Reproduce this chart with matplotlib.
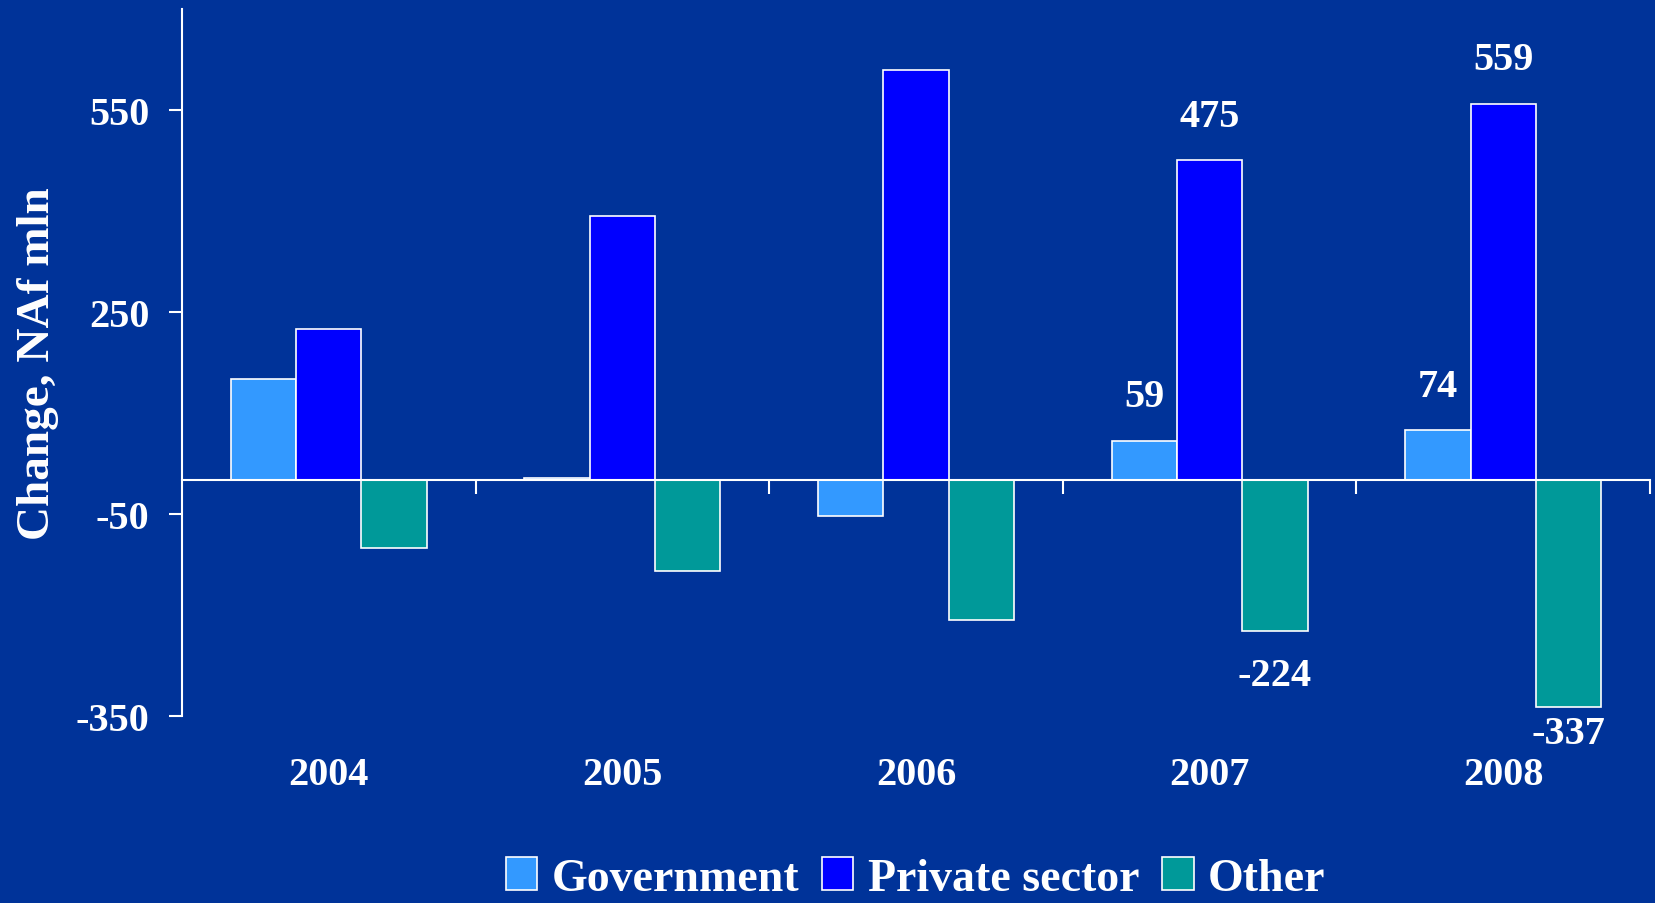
import matplotlib.pyplot as plt
import numpy as np

years = ["2004", "2005", "2006", "2007", "2008"]
government = [151, 3, -53, 59, 74]
private_sector = [225, 393, 610, 475, 559]
other = [-100, -134, -207, -224, -337]

series_names = ["Government", "Private sector", "Other"]
series_colors = ["#3399FF", "#0000FF", "#009999"]

# years whose bars carry a value label
labelled_years = ["2007", "2008"]

BG = "#003399"
FONT = "Liberation Serif"

plt.rcParams["axes.unicode_minus"] = False


def label_offset(value):
    """Vertical offset (points) of a value label from the bar end."""
    if value >= 0:
        return 32
    if value < -300:
        return -19
    return -32


def plot_changes(save_path="out.png"):
    fig = plt.figure(figsize=(16.56, 9.04), dpi=100, facecolor=BG)
    ax = fig.add_axes([0.1099, 0.2069, 0.8865, 0.7821], facecolor=BG)

    x = np.arange(len(years))
    width = 0.2225
    data = [government, private_sector, other]

    for i, (vals, name, color) in enumerate(zip(data, series_names, series_colors)):
        pos = x + (i - 1) * width
        ax.bar(pos, vals, width, color=color, edgecolor="white",
               linewidth=1.2, label=name, zorder=1)
        for xp, year, v in zip(pos, years, vals):
            if year in labelled_years:
                ax.annotate(str(v), (xp, v), xytext=(0, label_offset(v)),
                            textcoords="offset points", ha="center", va="center",
                            color="white", fontsize=29, fontweight="bold",
                            family=FONT)

    ax.set_xlim(-0.5, len(years) - 0.5)
    ax.set_ylim(-350, 700)

    for side in ["top", "right"]:
        ax.spines[side].set_visible(False)
    ax.spines["left"].set_color("white")
    ax.spines["left"].set_linewidth(1.5)
    ax.spines["bottom"].set_position(("data", 0))
    ax.spines["bottom"].set_color("white")
    ax.spines["bottom"].set_linewidth(1.5)

    ax.set_yticks([-350, -50, 250, 550])
    ax.tick_params(axis="y", colors="white", length=9.5, width=1.5, pad=14,
                   labelsize=29)

    # separators between year groups along the zero line
    ax.set_xticks(x + 0.5)
    ax.set_xticklabels([])
    ax.tick_params(axis="x", colors="white", length=10, width=1.5, direction="out")

    years_axis = ax.secondary_xaxis("bottom")
    years_axis.set_xticks(x)
    years_axis.set_xticklabels(years)
    years_axis.spines["bottom"].set_visible(False)
    years_axis.tick_params(length=0, pad=29, labelsize=29, colors="white")

    for lbl in ax.get_yticklabels() + years_axis.get_xticklabels():
        lbl.set_fontfamily(FONT)
        lbl.set_fontweight("bold")

    ax.set_ylabel("Change, NAf mln", color="white", fontsize=34,
                  fontweight="bold", family=FONT)
    ax.yaxis.set_label_coords(-0.084, 0.5)

    fig.legend(loc="center", bbox_to_anchor=(0.553, 0.027), ncol=3,
               frameon=False, prop={"family": FONT, "weight": "bold", "size": 33},
               labelcolor="white", handlelength=0.68, handleheight=0.73,
               handletextpad=0.32, columnspacing=0.5, borderpad=0)

    fig.savefig(save_path, facecolor=BG)
    plt.close(fig)


if __name__ == "__main__":
    plot_changes()
